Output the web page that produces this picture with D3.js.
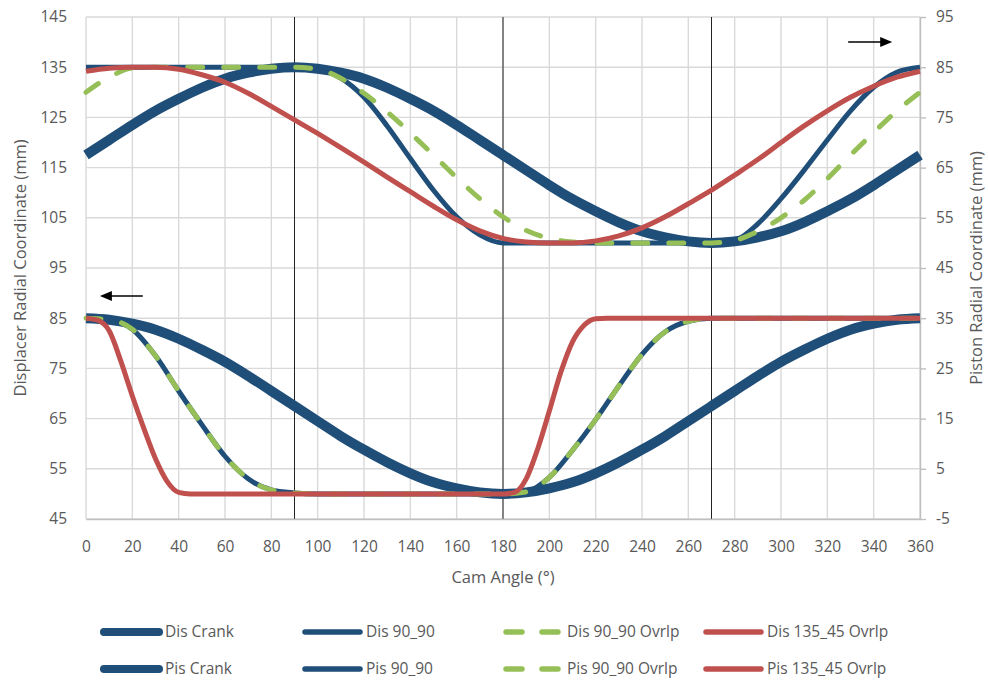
<!DOCTYPE html>
<html>
<head>
<meta charset="utf-8">
<script src="https://cdn.jsdelivr.net/npm/d3@7"></script>
<style>
  body { margin: 0; background: #fff; }
  text { font-family: "Open Sans", sans-serif; fill: #595959; }
</style>
</head>
<body>
<svg id="chart" width="988" height="680"></svg>
<script>
// cam angle samples, every 10 degrees
const angles = [0, 10, 20, 30, 40, 50, 60, 70, 80, 90, 100, 110, 120, 130, 140, 150, 160, 170, 180,
  190, 200, 210, 220, 230, 240, 250, 260, 270, 280, 290, 300, 310, 320, 330, 340, 350, 360];

// displacer curves (left axis, mm)
const disCrank = [117.5, 120.5, 123.5, 126.3, 128.7, 130.9, 132.7, 133.9, 134.7, 135, 134.7, 133.9, 132.7,
  130.9, 128.7, 126.3, 123.5, 120.5, 117.5, 114.5, 111.5, 108.7, 106.3, 104.1, 102.3, 101.1, 100.3, 100,
  100.3, 101.1, 102.3, 104.1, 106.3, 108.7, 111.5, 114.5, 117.5];
const dis9090 = [135, 135, 135, 135, 135, 135, 135, 135, 135, 135, 134.7, 132.8, 129, 123.3, 116.8, 110.5,
  105.2, 101.6, 100, 100, 100, 100, 100, 100, 100, 100, 100, 100, 100.5, 103.8, 108.8, 114.5, 120.5, 126.3,
  131, 134, 135];
const dis9090Ovrlp = [130, 133, 134.8, 135, 135, 135, 135, 135, 135, 135, 134.6, 132.8, 129.8, 126.1, 121.9,
  117.5, 113, 108.8, 105.2, 102.5, 100.9, 100.2, 100, 100, 100, 100, 100, 100, 100.5, 102.3, 105, 108.5,
  112.8, 117.5, 122, 126.3, 130];
const dis13545 = [134.2, 134.8, 135, 135, 134.6, 133.5, 132, 129.8, 127.2, 124.5, 121.8, 119, 116.1, 113.1,
  110.2, 107.3, 104.6, 102.4, 100.9, 100.2, 100, 100, 100.4, 101.4, 103, 105.2, 107.8, 110.5, 113.5,
  116.6, 120, 123.3, 126.3, 129, 131.2, 133, 134.2];

// piston curves (right axis, mm)
const pisCrank = [35, 34.7, 33.9, 32.7, 30.9, 28.7, 26.3, 23.5, 20.5, 17.5, 14.5, 11.5, 8.8, 6.3, 4.1,
  2.3, 1.1, 0.3, 0, 0.3, 1.1, 2.3, 4.1, 6.3, 8.8, 11.5, 14.5, 17.5, 20.5, 23.5, 26.3, 28.7, 30.9, 32.7,
  33.9, 34.7, 35];
const pis9090 = [35, 34.7, 32.8, 27.5, 20.5, 13.8, 7.5, 3, 0.8, 0.2, 0, 0, 0, 0, 0, 0, 0, 0, 0,
  0.4, 3.3, 8.7, 14.8, 21.5, 27.8, 32.3, 34.4, 35, 35, 35, 35, 35, 35, 35, 35, 35, 35];
const pis9090Ovrlp = [35, 34.7, 32.8, 27.5, 20.5, 13.8, 7.5, 3, 0.8, 0.2, 0, 0, 0, 0, 0, 0, 0, 0, 0,
  0.4, 3.3, 8.7, 14.8, 21.5, 27.8, 32.3, 34.4, 35, 35, 35, 35, 35, 35, 35, 35, 35, 35];
const pis13545Angles = [0, 5, 10, 15, 20, 25, 30, 35, 40, 45, 60, 90, 120, 150, 180, 185, 190, 195, 200,
  205, 210, 215, 220, 225, 240, 270, 300, 330, 360];
const pis13545 = [35, 34.6, 32.5, 26.5, 19.5, 13, 7, 2.5, 0.3, 0, 0, 0, 0, 0, 0, 0.3, 3, 9, 16.5,
  24.3, 30.3, 33.6, 34.9, 35, 35, 35, 35, 35, 35];

const xTicks = d3.range(0, 361, 20);
const leftTicks = [45, 55, 65, 75, 85, 95, 105, 115, 125, 135, 145];
const rightTicks = [-5, 5, 15, 25, 35, 45, 55, 65, 75, 85, 95];
const markAngles = [90, 180, 270];

const BLUE = "#1f4e79", GREEN = "#96c057", RED = "#c0504d";

const series = [
  { name: "Dis Crank", x: angles, y: disCrank, axis: "L", color: BLUE, w: 10, lw: 8 },
  { name: "Dis 90_90", x: angles, y: dis9090, axis: "L", color: BLUE, w: 5, lw: 5.5 },
  { name: "Dis 90_90 Ovrlp", x: angles, y: dis9090Ovrlp, axis: "L", color: GREEN, w: 5, lw: 5.5, dash: "15 21" },
  { name: "Dis 135_45 Ovrlp", x: angles, y: dis13545, axis: "L", color: RED, w: 5, lw: 5.5 },
  { name: "Pis Crank", x: angles, y: pisCrank, axis: "R", color: BLUE, w: 10, lw: 8 },
  { name: "Pis 90_90", x: angles, y: pis9090, axis: "R", color: BLUE, w: 5, lw: 5.5 },
  { name: "Pis 90_90 Ovrlp", x: angles, y: pis9090Ovrlp, axis: "R", color: GREEN, w: 5, lw: 5.5, dash: "15 21" },
  { name: "Pis 135_45 Ovrlp", x: pis13545Angles, y: pis13545, axis: "R", color: RED, w: 5, lw: 5.5 },
];

const svg = d3.select("#chart");
const margin = { left: 86, right: 68, top: 17, bottom: 161 };
const W = 988, H = 680;

const x = d3.scaleLinear().domain([0, 360]).range([margin.left, W - margin.right]);
const yL = d3.scaleLinear().domain([45, 145]).range([H - margin.bottom, margin.top]);
const yR = d3.scaleLinear().domain([-5, 95]).range([H - margin.bottom, margin.top]);

// grid
const grid = svg.append("g").attr("stroke", "#d9d9d9").attr("stroke-width", 1.4);
grid.selectAll(".v").data(xTicks).join("line")
  .attr("x1", d => x(d)).attr("x2", d => x(d))
  .attr("y1", yL(45)).attr("y2", yL(145));
grid.selectAll(".h").data(leftTicks).join("line")
  .attr("x1", x(0)).attr("x2", x(360))
  .attr("y1", d => yL(d)).attr("y2", d => yL(d));

// cam quadrant markers
svg.append("g").selectAll("line").data(markAngles).join("line")
  .attr("x1", d => x(d)).attr("x2", d => x(d))
  .attr("y1", yL(45)).attr("y2", yL(145))
  .attr("stroke", "#222").attr("stroke-width", 1);

// axes
const axL = svg.append("g").attr("transform", `translate(${margin.left},0)`)
  .call(d3.axisLeft(yL).tickValues(leftTicks).tickSize(0).tickPadding(19));
const axR = svg.append("g").attr("transform", `translate(${W - margin.right},0)`)
  .call(d3.axisRight(yR).tickValues(rightTicks).tickFormat(d => String(d))
    .tickSize(6).tickPadding(10).tickSizeOuter(0));
const axB = svg.append("g").attr("transform", `translate(0,${H - margin.bottom})`)
  .call(d3.axisBottom(x).tickValues(xTicks).tickSize(0).tickPadding(22));
[axL, axR, axB].forEach(g => {
  g.selectAll("text").attr("font-size", "15.5px").attr("font-family", "Open Sans").attr("fill", "#595959");
  g.selectAll("line").attr("stroke", "#bfbfbf").attr("stroke-width", 1.4);
  g.select(".domain").attr("stroke", "#bfbfbf").attr("stroke-width", 1.4);
});
axL.select(".domain").remove();

// axis titles
svg.append("text").attr("x", x(180)).attr("y", 583).attr("text-anchor", "middle")
  .attr("font-size", "16.5px").text("Cam Angle (°)");
svg.append("text").attr("transform", `translate(26,${(yL(45) + yL(145)) / 2}) rotate(-90)`)
  .attr("text-anchor", "middle").attr("font-size", "16.5px").text("Displacer Radial Coordinate (mm)");
svg.append("text").attr("transform", `translate(982,${(yL(45) + yL(145)) / 2}) rotate(-90)`)
  .attr("text-anchor", "middle").attr("font-size", "16.5px").text("Piston Radial Coordinate (mm)");

// curves
const plot = svg.append("g");
series.forEach(s => {
  const yS = s.axis === "L" ? yL : yR;
  const line = d3.line().x(d => x(d[0])).y(d => yS(d[1])).curve(d3.curveMonotoneX);
  plot.append("path")
    .attr("d", line(d3.zip(s.x, s.y)))
    .attr("fill", "none")
    .attr("stroke", s.color)
    .attr("stroke-width", s.w)
    .attr("stroke-linejoin", "round")
    .attr("stroke-linecap", s.dash ? "round" : "butt")
    .attr("stroke-dasharray", s.dash || null);
});

// axis arrows
const arrows = [
  { from: [329, 140], to: [348, 140], y: yL },
  { from: [24.5, 89.4], to: [6, 89.4], y: yL },
];
arrows.forEach(a => {
  const x1 = x(a.from[0]), x2 = x(a.to[0]), yy = a.y(a.from[1]);
  const dir = Math.sign(x2 - x1);
  svg.append("line").attr("x1", x1).attr("x2", x2 - dir * 8).attr("y1", yy).attr("y2", yy)
    .attr("stroke", "#000").attr("stroke-width", 1.5);
  svg.append("path")
    .attr("d", `M${x2},${yy} L${x2 - dir * 12},${yy - 5} L${x2 - dir * 12},${yy + 5} Z`)
    .attr("fill", "#000");
});

// legend
const legCols = [101, 302, 503, 703];
const legRows = [632, 669];
const legend = svg.append("g");
series.forEach((s, i) => {
  const lx = legCols[i % 4], ly = legRows[Math.floor(i / 4)];
  legend.append("line")
    .attr("x1", lx + 3).attr("x2", lx + 58).attr("y1", ly).attr("y2", ly)
    .attr("stroke", s.color).attr("stroke-width", s.lw)
    .attr("stroke-linecap", "round")
    .attr("stroke-dasharray", s.dash ? "16 20" : null);
  legend.append("text").attr("x", lx + 64).attr("y", ly).attr("dy", "0.35em")
    .attr("font-size", "15.5px").text(s.name);
});
</script>
</body>
</html>
